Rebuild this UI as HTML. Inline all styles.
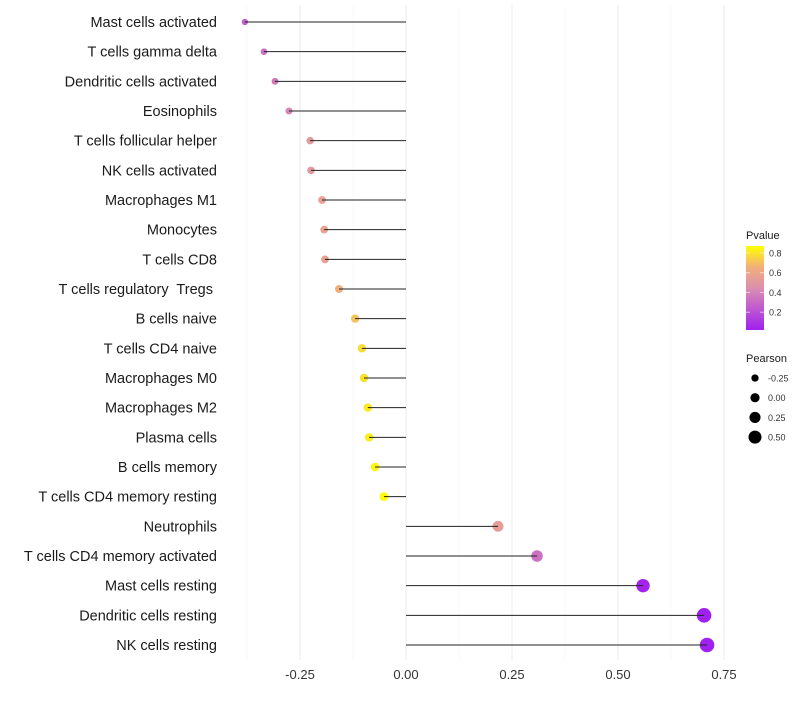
<!DOCTYPE html>
<html><head><meta charset="utf-8"><style>
body{margin:0;background:#fff;font-family:"Liberation Sans",sans-serif}
text{white-space:pre}
</style></head><body>
<svg id="c" width="800" height="700" xmlns="http://www.w3.org/2000/svg" font-family="Liberation Sans, sans-serif">
<defs><linearGradient id="pg" x1="0" y1="1" x2="0" y2="0">
<stop offset="0" stop-color="#A020F0"/><stop offset="0.5" stop-color="#DB8FAF"/><stop offset="0.75" stop-color="#F2B07A"/><stop offset="1" stop-color="#FFFF00"/></linearGradient></defs>
</svg>
<script>
const categories=["Mast cells activated","T cells gamma delta","Dendritic cells activated","Eosinophils","T cells follicular helper","NK cells activated","Macrophages M1","Monocytes","T cells CD8","T cells regulatory  Tregs ","B cells naive","T cells CD4 naive","Macrophages M0","Macrophages M2","Plasma cells","B cells memory","T cells CD4 memory resting","Neutrophils","T cells CD4 memory activated","Mast cells resting","Dendritic cells resting","NK cells resting"];
const pearson=[-0.38,-0.335,-0.309,-0.276,-0.226,-0.224,-0.198,-0.193,-0.191,-0.158,-0.12,-0.104,-0.099,-0.09,-0.087,-0.073,-0.052,0.217,0.309,0.559,0.703,0.71];
const pvalue=[0.25,0.32,0.36,0.42,0.52,0.52,0.58,0.58,0.57,0.67,0.73,0.8,0.82,0.84,0.85,0.87,0.9,0.55,0.33,0.02,0.0,0.0];
const xTicks=[-0.25,0,0.25,0.5,0.75];
const xTickLabels=["-0.25","0.00","0.25","0.50","0.75"];
const pTicks=[0.2,0.4,0.6,0.8];
const sizeLegend=[-0.25,0,0.25,0.5];
const sizeLabels=["-0.25","0.00","0.25","0.50"];
const NS="http://www.w3.org/2000/svg",svg=document.getElementById('c');
const x=v=>406+v*424, y=i=>22+i*(623/21), r=v=>4.6+3.8*v;
function mk(t,a,p){const e=document.createElementNS(NS,t);for(const k in a)e.setAttribute(k,a[k]);(p||svg).appendChild(e);return e;}
function lerp(a,b,t){return a.map((v,i)=>Math.round(v+(b[i]-v)*t));}
const stops=[[0,[160,32,240]],[0.45,[219,143,175]],[0.68,[242,176,122]],[0.9,[255,255,0]]];
function col(p){p=Math.max(0,Math.min(0.9,p));for(let i=0;i<stops.length-1;i++){if(p<=stops[i+1][0]){const c=lerp(stops[i][1],stops[i+1][1],(p-stops[i][0])/(stops[i+1][0]-stops[i][0]));return `rgb(${c})`;}}return 'rgb(255,255,0)';}
for(let v=-0.375;v<=0.76;v+=0.125){const g=mk('line',{x1:x(v),x2:x(v),y1:5,y2:660,stroke:Math.abs((v*8)%2)<0.01?'#ebebeb':'#f3f3f3','stroke-width':Math.abs((v*8)%2)<0.01?1:0.6});}
xTicks.forEach((v,i)=>{const t=mk('text',{x:x(v),y:679,'text-anchor':'middle','font-size':13,fill:'#333'});t.textContent=xTickLabels[i];});
categories.forEach((c,i)=>{
 const t=mk('text',{x:217,y:y(i)+5,'text-anchor':'end','font-size':14.5,fill:'#1a1a1a'});t.textContent=c;
 
 const p=mk('circle',{cx:x(pearson[i]),cy:y(i),r:r(pearson[i]),fill:col(pvalue[i])});
 
 const l=mk('line',{x1:x(0),x2:x(pearson[i]),y1:y(i),y2:y(i),stroke:'#222','stroke-width':1});
 
});
const lt=mk('text',{x:746,y:239,'font-size':11,fill:'#1a1a1a'});lt.textContent='Pvalue';
const bar=mk('rect',{x:746,y:246,width:18,height:84,fill:'url(#pg)'});
const py=p=>330-(p-0.02)*(84/0.85);
pTicks.forEach(p=>{mk('line',{x1:746,x2:750,y1:py(p),y2:py(p),stroke:'#fff','stroke-opacity':0.6});mk('line',{x1:760,x2:764,y1:py(p),y2:py(p),stroke:'#fff','stroke-opacity':0.6});
 const t=mk('text',{x:769,y:py(p)+3.5,'font-size':9,fill:'#333'});t.textContent=p.toFixed(1);});
const st=mk('text',{x:746,y:362,'font-size':11,fill:'#1a1a1a'});st.textContent='Pearson';
sizeLegend.forEach((v,i)=>{const yy=378+i*19.7;const c=mk('circle',{cx:755,cy:yy,r:r(v),fill:'#000'});
 const t=mk('text',{x:768,y:yy+3.5,'font-size':9,fill:'#333'});t.textContent=sizeLabels[i];});
</script>
</body></html>
